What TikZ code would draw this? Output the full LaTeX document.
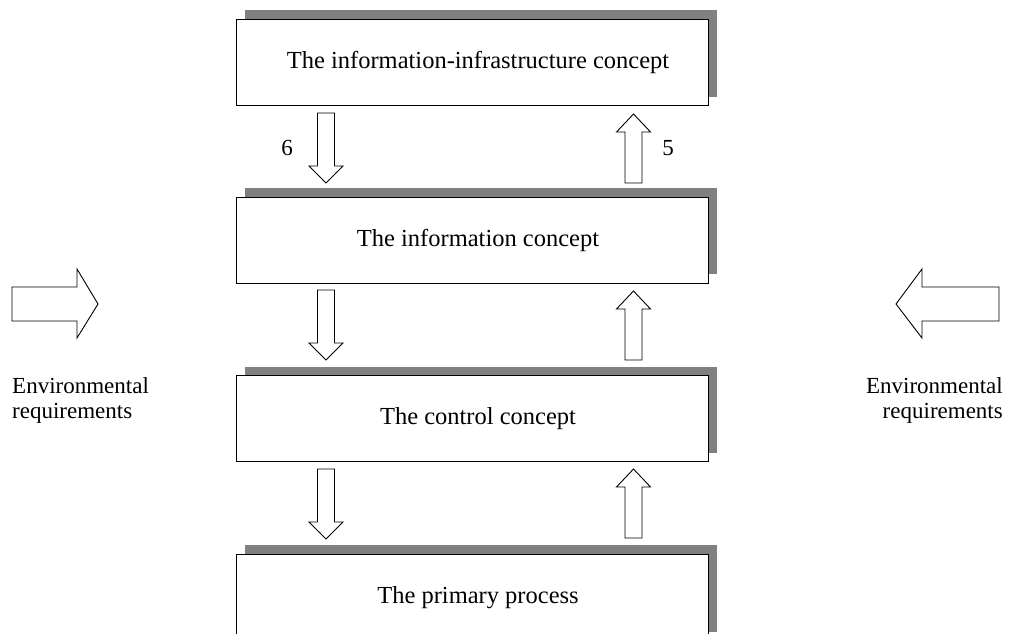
\documentclass[tikz,border=0pt]{standalone}
\usepackage{fontspec}
\setmainfont{Liberation Serif}
\usetikzlibrary{shadows}
\definecolor{shadowgray}{HTML}{808080}
\tikzset{
  concept/.style={draw=black, line width=0.9pt, fill=white,
    minimum width=472pt, minimum height=86pt, inner sep=0pt,
    font=\fontsize{24.5}{29}\selectfont,
    execute at begin node={\hspace*{12pt}},
    general shadow={fill=shadowgray, shadow xshift=9pt, shadow yshift=9pt}},
  label text/.style={font=\fontsize{23}{25}\selectfont, inner sep=0pt},
  blockarrow/.style={draw=black, line width=0.9pt, fill=white, line join=miter},
  pics/blockdown/.style={code={
    \path[blockarrow] (-8.5,0) -- (8.5,0) -- (8.5,53) -- (17,53) -- (0,70)
      -- (-17,53) -- (-8.5,53) -- cycle;}},
  pics/blockup/.style={code={
    \path[blockarrow] (0,0) -- (17,18) -- (8.5,18) -- (8.5,69) -- (-8.5,69)
      -- (-8.5,18) -- (-17,18) -- cycle;}},
}
\begin{document}
\begin{tikzpicture}[x=1pt, y=-1pt]
  \useasboundingbox (0,0) rectangle (1009,634);
  \clip (0,0) rectangle (1009,634);

  % the four layers
  \node[concept] (infra)   at (472,62.5)  {The information-infrastructure concept};
  \node[concept] (info)    at (472,240)   {The information concept};
  \node[concept] (control) at (472,418.5) {The control concept};
  \node[concept, minimum height=87pt] (primary) at (472,597.5) {The primary process};

  % vertical flows between the layers
  \pic at (326,113) {blockdown};
  \pic at (633.5,114) {blockup};
  \pic at (326,290) {blockdown};
  \pic at (633.5,291) {blockup};
  \pic at (326,469) {blockdown};
  \pic at (633.5,469) {blockup};

  \node[label text] (six)  at (287,148) {6};
  \node[label text] (five) at (668,148) {5};

  % environmental inputs from both sides
  \path[blockarrow] (12,287) -- (77,287) -- (77,269) -- (98,304) -- (77,338)
    -- (77,321) -- (12,321) -- cycle;
  \path[blockarrow] (999,287) -- (922,287) -- (922,269) -- (896,304) -- (922,338)
    -- (922,321) -- (999,321) -- cycle;

  \node[label text, anchor=north west, align=left] (envL) at (12,377)
    {Environmental\\requirements};
  \node[label text, anchor=north east, align=right] (envR) at (1003,377)
    {Environmental\\requirements};
\end{tikzpicture}
\end{document}
